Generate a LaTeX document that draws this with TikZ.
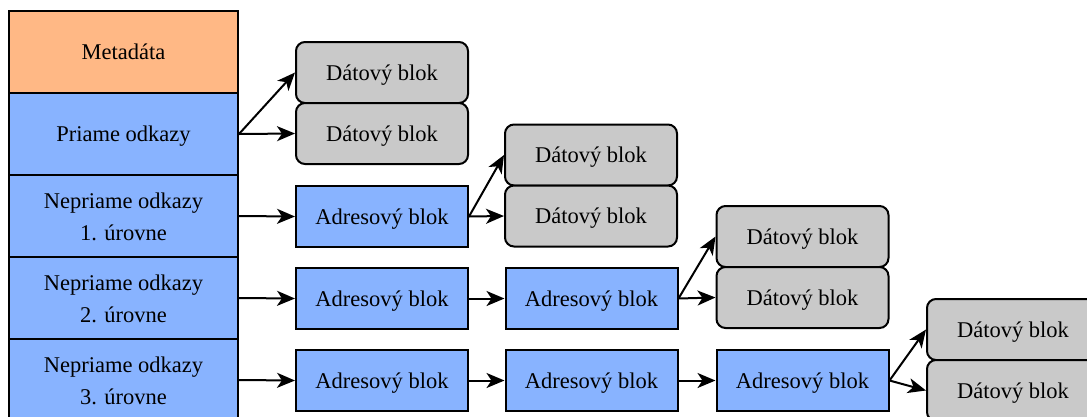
\documentclass[tikz,border=0pt]{standalone}
\usepackage{fontspec}
\setmainfont{Liberation Serif}
\usetikzlibrary{arrows.meta}
\definecolor{metaorange}{HTML}{FFB885}
\definecolor{blockblue}{HTML}{88B3FF}
\definecolor{datagray}{HTML}{C9C9C9}
\newcommand\hstrut[1][20pt]{\rule{0pt}{#1}}
\begin{document}
\begin{tikzpicture}[x=1pt,y=-1pt,
  every node/.style={font=\rmfamily\fontsize{22.5}{32}\selectfont, align=center, inner sep=0pt, line width=2pt, draw=black},
  leftbox/.style={rectangle, minimum width=229pt, minimum height=82pt},
  metabox/.style={leftbox, fill=metaorange},
  refbox/.style={leftbox, fill=blockblue},
  adrbox/.style={rectangle, fill=blockblue, minimum width=172pt, minimum height=61pt},
  databox/.style={rectangle, rounded corners=9pt, fill=datagray, minimum width=172pt, minimum height=61pt},
  link/.style={line width=2pt, -{Stealth[length=18pt,width=15pt,inset=5pt]}}
]
\useasboundingbox (0,0) rectangle (1087,416);
\clip (0,0) rectangle (1087,416);
\node[metabox] (meta) at (123.5,52) {Metadáta};
\node[refbox] (pri) at (123.5,134) {\hstrut Priame odkazy};
\node[refbox] (n1) at (123.5,216) {\hstrut[18pt]Nepriame odkazy\\1. úrovne};
\node[refbox] (n2) at (123.5,298) {\hstrut[18pt]Nepriame odkazy\\2. úrovne};
\node[refbox] (n3) at (123.5,380) {\hstrut[18pt]Nepriame odkazy\\3. úrovne};

\node[databox] (d1a) at (382,72.5) {\hstrut Dátový blok};
\node[databox] (d1b) at (382,133.5) {\hstrut Dátový blok};

\node[adrbox] (a1) at (382,216.5) {\hstrut Adresový blok};
\node[databox] (d2a) at (591,155) {\hstrut Dátový blok};
\node[databox] (d2b) at (591,216) {\hstrut Dátový blok};

\node[adrbox] (a2a) at (382,298.5) {\hstrut Adresový blok};
\node[adrbox] (a2b) at (591.5,298.5) {\hstrut Adresový blok};
\node[databox] (d3a) at (802.5,236.5) {\hstrut Dátový blok};
\node[databox] (d3b) at (802.5,297.5) {\hstrut Dátový blok};

\node[adrbox] (a3a) at (382,380.5) {\hstrut Adresový blok};
\node[adrbox] (a3b) at (591.5,380.5) {\hstrut Adresový blok};
\node[adrbox] (a3c) at (802.5,380.5) {\hstrut Adresový blok};
\node[databox] (d4a) at (1013,329.5) {\hstrut Dátový blok};
\node[databox] (d4b) at (1013,390.5) {\hstrut Dátový blok};

\draw[link] (pri.east) -- (d1a.west);
\draw[link] (pri.east) -- (d1b.west);
\draw[link] (n1.east) -- (a1.west);
\draw[link] (a1.east) -- (d2a.west);
\draw[link] (a1.east) -- (d2b.west);
\draw[link] (n2.east) -- (a2a.west);
\draw[link] (a2a.east) -- (a2b.west);
\draw[link] (a2b.east) -- (d3a.west);
\draw[link] (a2b.east) -- (d3b.west);
\draw[link] (n3.east) -- (a3a.west);
\draw[link] (a3a.east) -- (a3b.west);
\draw[link] (a3b.east) -- (a3c.west);
\draw[link] (a3c.east) -- (d4a.west);
\draw[link] (a3c.east) -- (d4b.west);
\end{tikzpicture}
\end{document}
